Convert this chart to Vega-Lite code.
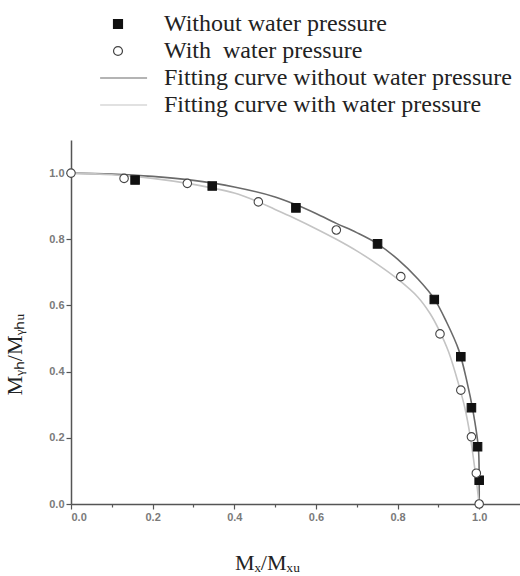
{
  "$schema": "https://vega.github.io/schema/vega-lite/v6.json",
  "autosize": {"type": "none"},
  "padding": {"left": 71, "top": 140, "right": 0, "bottom": 72},
  "width": 449,
  "height": 364,
  "background": "white",
  "datasets": {
    "tests": [
      {"series": "Without water pressure", "x": 0.157, "y": 0.979},
      {"series": "Without water pressure", "x": 0.346, "y": 0.961},
      {"series": "Without water pressure", "x": 0.551, "y": 0.895},
      {"series": "Without water pressure", "x": 0.751, "y": 0.786},
      {"series": "Without water pressure", "x": 0.890, "y": 0.618},
      {"series": "Without water pressure", "x": 0.955, "y": 0.445},
      {"series": "Without water pressure", "x": 0.981, "y": 0.291},
      {"series": "Without water pressure", "x": 0.996, "y": 0.173},
      {"series": "Without water pressure", "x": 1.0, "y": 0.072},
      {"series": "With \u00a0water pressure", "x": 0.0, "y": 1.0},
      {"series": "With \u00a0water pressure", "x": 0.130, "y": 0.984},
      {"series": "With \u00a0water pressure", "x": 0.285, "y": 0.969},
      {"series": "With \u00a0water pressure", "x": 0.459, "y": 0.913},
      {"series": "With \u00a0water pressure", "x": 0.650, "y": 0.828},
      {"series": "With \u00a0water pressure", "x": 0.808, "y": 0.687},
      {"series": "With \u00a0water pressure", "x": 0.904, "y": 0.514},
      {"series": "With \u00a0water pressure", "x": 0.955, "y": 0.344},
      {"series": "With \u00a0water pressure", "x": 0.981, "y": 0.203},
      {"series": "With \u00a0water pressure", "x": 0.993, "y": 0.093},
      {"series": "With \u00a0water pressure", "x": 1.0, "y": 0.0}
    ],
    "fits": [
      {"series": "Fitting curve without water pressure", "x": 0.0, "y": 1.0},
      {"series": "Fitting curve without water pressure", "x": 0.1, "y": 0.997},
      {"series": "Fitting curve without water pressure", "x": 0.2, "y": 0.99},
      {"series": "Fitting curve without water pressure", "x": 0.3, "y": 0.978},
      {"series": "Fitting curve without water pressure", "x": 0.4, "y": 0.958},
      {"series": "Fitting curve without water pressure", "x": 0.5, "y": 0.928},
      {"series": "Fitting curve without water pressure", "x": 0.55, "y": 0.905},
      {"series": "Fitting curve without water pressure", "x": 0.6, "y": 0.878},
      {"series": "Fitting curve without water pressure", "x": 0.65, "y": 0.848},
      {"series": "Fitting curve without water pressure", "x": 0.7, "y": 0.82},
      {"series": "Fitting curve without water pressure", "x": 0.75, "y": 0.787},
      {"series": "Fitting curve without water pressure", "x": 0.8, "y": 0.74},
      {"series": "Fitting curve without water pressure", "x": 0.85, "y": 0.68},
      {"series": "Fitting curve without water pressure", "x": 0.89, "y": 0.62},
      {"series": "Fitting curve without water pressure", "x": 0.92, "y": 0.55},
      {"series": "Fitting curve without water pressure", "x": 0.95, "y": 0.465},
      {"series": "Fitting curve without water pressure", "x": 0.97, "y": 0.37},
      {"series": "Fitting curve without water pressure", "x": 0.985, "y": 0.28},
      {"series": "Fitting curve without water pressure", "x": 0.998, "y": 0.17},
      {"series": "Fitting curve without water pressure", "x": 1.0, "y": 0.07},
      {"series": "Fitting curve without water pressure", "x": 1.0, "y": 0.0},
      {"series": "Fitting curve with water pressure", "x": 0.0, "y": 1.0},
      {"series": "Fitting curve with water pressure", "x": 0.1, "y": 0.995},
      {"series": "Fitting curve with water pressure", "x": 0.2, "y": 0.984},
      {"series": "Fitting curve with water pressure", "x": 0.3, "y": 0.966},
      {"series": "Fitting curve with water pressure", "x": 0.4, "y": 0.94},
      {"series": "Fitting curve with water pressure", "x": 0.45, "y": 0.918},
      {"series": "Fitting curve with water pressure", "x": 0.5, "y": 0.89},
      {"series": "Fitting curve with water pressure", "x": 0.55, "y": 0.862},
      {"series": "Fitting curve with water pressure", "x": 0.6, "y": 0.832},
      {"series": "Fitting curve with water pressure", "x": 0.65, "y": 0.8},
      {"series": "Fitting curve with water pressure", "x": 0.7, "y": 0.765},
      {"series": "Fitting curve with water pressure", "x": 0.75, "y": 0.725},
      {"series": "Fitting curve with water pressure", "x": 0.8, "y": 0.68},
      {"series": "Fitting curve with water pressure", "x": 0.85, "y": 0.625},
      {"series": "Fitting curve with water pressure", "x": 0.88, "y": 0.575},
      {"series": "Fitting curve with water pressure", "x": 0.9, "y": 0.53},
      {"series": "Fitting curve with water pressure", "x": 0.925, "y": 0.46},
      {"series": "Fitting curve with water pressure", "x": 0.95, "y": 0.36},
      {"series": "Fitting curve with water pressure", "x": 0.965, "y": 0.29},
      {"series": "Fitting curve with water pressure", "x": 0.978, "y": 0.205},
      {"series": "Fitting curve with water pressure", "x": 0.99, "y": 0.1},
      {"series": "Fitting curve with water pressure", "x": 1.0, "y": 0.0}
    ]
  },
  "layer": [
    {
      "data": {"name": "fits"},
      "mark": {"type": "line", "strokeWidth": 1.6, "interpolate": "catmull-rom"},
      "encoding": {
        "x": {
          "field": "x", "type": "quantitative",
          "scale": {"domain": [0, 1.1], "nice": false, "zero": false},
          "axis": {
            "title": "Mₓ/Mₓᵤ",
            "values": [0, 0.1, 0.2, 0.3, 0.4, 0.5, 0.6, 0.7, 0.8, 0.9, 1.0],
            "labelExpr": "round(datum.value * 10) % 2 === 0 ? format(datum.value, '.1f') : ''",
            "tickSize": {"condition": {"test": "round(datum.value * 10) % 2 === 0", "value": 5}, "value": 3},
            "titleX": 196,
            "titleY": 58,
            "titleBaseline": "middle"
          }
        },
        "y": {
          "field": "y", "type": "quantitative",
          "scale": {"domain": [0, 1.1], "nice": false, "zero": false},
          "axis": {
            "title": "Mᵧₕ/Mᵧₕᵤ",
            "values": [0, 0.1, 0.2, 0.3, 0.4, 0.5, 0.6, 0.7, 0.8, 0.9, 1.0],
            "labelExpr": "round(datum.value * 10) % 2 === 0 ? format(datum.value, '.1f') : ''",
            "tickSize": {"condition": {"test": "round(datum.value * 10) % 2 === 0", "value": 5}, "value": 3},
            "titleX": -57,
            "titleY": 214,
            "titleBaseline": "middle"
          }
        },
        "order": {"field": "y", "sort": "descending"},
        "stroke": {
          "field": "series", "type": "nominal",
          "scale": {
            "domain": ["Without water pressure", "With \u00a0water pressure", "Fitting curve without water pressure", "Fitting curve with water pressure"],
            "range": ["#111111", "#444444", "#6a6a6a", "#c4c4c4"]
          },
          "legend": {"orient": "none", "legendX": 35, "legendY": -128, "title": null}
        }
      }
    },
    {
      "data": {"name": "tests"},
      "mark": {"type": "point", "size": 72, "strokeWidth": 1.1, "opacity": 1},
      "encoding": {
        "x": {"field": "x", "type": "quantitative"},
        "y": {"field": "y", "type": "quantitative"},
        "stroke": {"field": "series", "type": "nominal"},
        "fill": {
          "field": "series", "type": "nominal",
          "scale": {
            "domain": ["Without water pressure", "With \u00a0water pressure", "Fitting curve without water pressure", "Fitting curve with water pressure"],
            "range": ["#111111", "#ffffff", "transparent", "transparent"]
          },
          "legend": {"orient": "none", "legendX": 35, "legendY": -128, "title": null}
        },
        "shape": {
          "field": "series", "type": "nominal",
          "scale": {
            "domain": ["Without water pressure", "With \u00a0water pressure", "Fitting curve without water pressure", "Fitting curve with water pressure"],
            "range": ["square", "circle", "M-4,0H6.5", "M-4,0H6.5"]
          },
          "legend": {"orient": "none", "legendX": 35, "legendY": -128, "title": null}
        }
      }
    }
  ],
  "config": {
    "view": {"stroke": null},
    "axis": {
      "grid": false,
      "domainColor": "#555555",
      "domainWidth": 1.5,
      "tickColor": "#555555",
      "tickWidth": 1.2,
      "labelColor": "#7a7a7a",
      "labelFont": "Liberation Sans",
      "labelFontSize": 11,
      "labelFontWeight": "bold",
      "labelPadding": 2,
      "titleFont": "Liberation Serif",
      "titleFontSize": 22,
      "titleFontWeight": "normal",
      "titleColor": "#222222"
    },
    "legend": {
      "padding": 0,
      "symbolSize": 80,
      "symbolStrokeWidth": 1.2,
      "labelFont": "Liberation Serif",
      "labelFontSize": 24,
      "labelColor": "#222222",
      "labelOffset": 34,
      "labelLimit": 0,
      "rowPadding": 3
    }
  }
}
